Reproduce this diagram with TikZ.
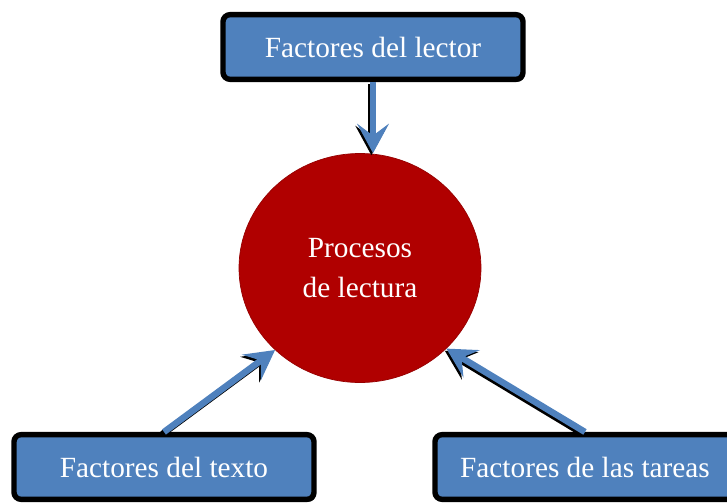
\documentclass[tikz,border=0pt]{standalone}
\usepackage{fontspec}
\setmainfont{Liberation Serif}
\usepackage{xcolor}
\usetikzlibrary{positioning,arrows.meta,shapes.geometric,shadows}
\definecolor{boxblue}{HTML}{4F81BD}
\definecolor{circred}{HTML}{B00000}

\begin{document}
\begin{tikzpicture}[x=0.03cm, y=-0.03cm,
  factor/.style={draw=black, line width=4.6pt, fill=boxblue, rounded corners=6pt,
    text=white, minimum width=9.0cm, minimum height=1.94cm, inner sep=0pt,
    font=\fontsize{25}{30}\selectfont,
    drop shadow={shadow xshift=1.5pt, shadow yshift=-2pt, fill=black, opacity=0.8}},
  flecha/.style={-{Stealth[length=25pt, width=27pt, inset=10pt]}, line width=5.5pt, draw=boxblue},
  flechasombra/.style={flecha, draw=black, transform canvas={xshift=-1.4pt, yshift=-1.8pt}}]
\useasboundingbox (0,0) rectangle (727,502);

% Circle in the middle
\node[ellipse, fill=circred, draw=circred!85!black, line width=0.6pt,
  minimum width=7.26cm, minimum height=6.87cm, inner sep=0pt, text=white,
  align=center, font=\fontsize{25}{34}\selectfont] (procesos) at (360, 268) {Procesos\\de lectura};

% Factor boxes
\node[factor] (lector) at (373, 47) {Factores del lector};
\node[factor] (texto) at (164, 467) {Factores del texto};
\node[factor] (tareas) at (585, 467) {Factores de las tareas};

% Arrows
\draw[flechasombra] (lector.south) -- (lector.south |- procesos.north);
\draw[flecha] (lector.south) -- (lector.south |- procesos.north);

\draw[flechasombra] (texto.north) -- (procesos.224);
\draw[flecha] (texto.north) -- (procesos.224);

\draw[flechasombra] (tareas.north) -- (procesos.-43);
\draw[flecha] (tareas.north) -- (procesos.-43);
\end{tikzpicture}
\end{document}
